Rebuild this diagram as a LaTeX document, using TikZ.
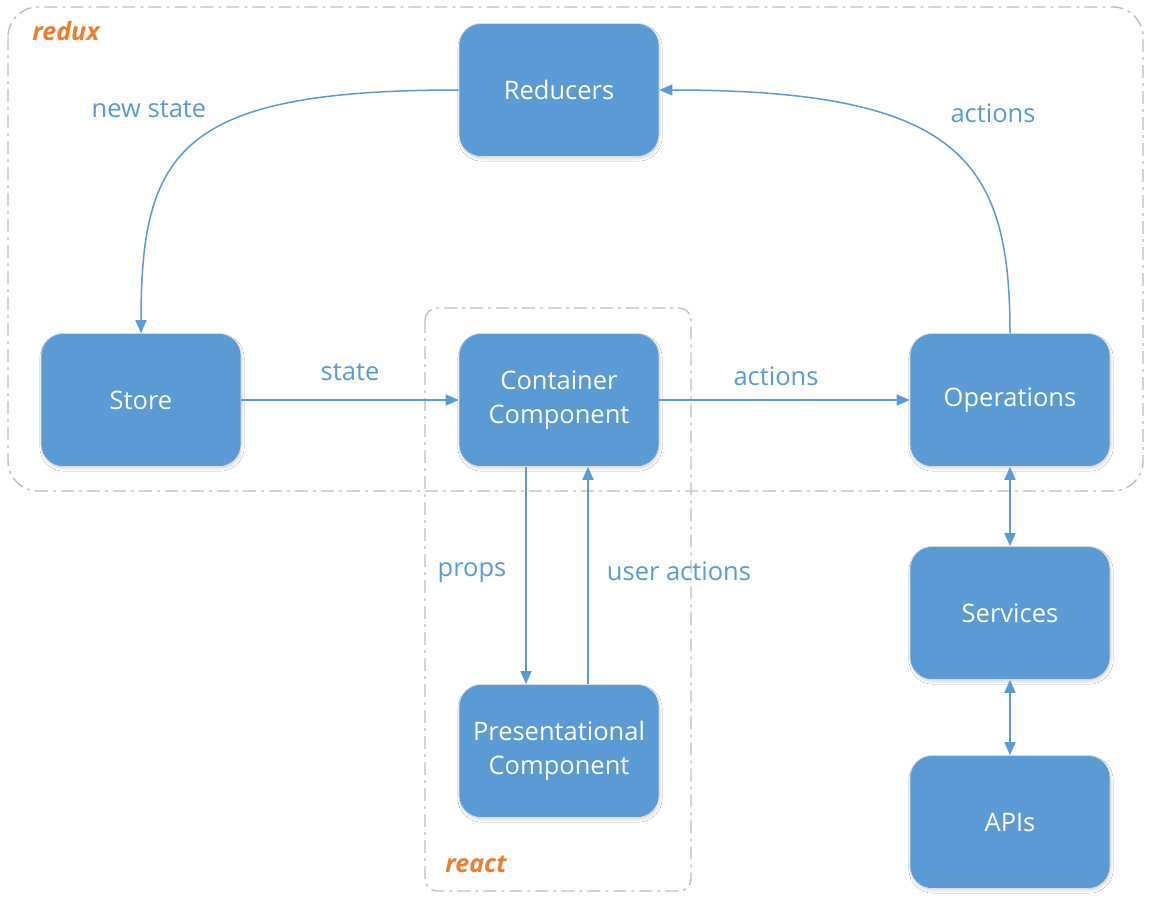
\documentclass[tikz,border=0pt]{standalone}
\usepackage{fontspec}
\setmainfont{Open Sans}
\usetikzlibrary{arrows.meta,shadows.blur}
\definecolor{boxblue}{HTML}{5B9BD5}
\definecolor{tagorange}{HTML}{ED7D31}
\definecolor{framegray}{HTML}{BFBFBF}
\begin{document}
\begin{tikzpicture}[x=1pt,y=-1pt,
  block/.style={rectangle, rounded corners=22pt, fill=boxblue, draw=black!14,
    line width=0.7pt, minimum width=200pt, minimum height=133pt,
    text=white, align=center, font=\fontsize{25.5}{34}\selectfont,
    blur shadow={shadow xshift=1pt, shadow yshift=-2.5pt, shadow opacity=13, shadow blur steps=6}},
  flow/.style={draw=boxblue, line width=1.5pt, -{Triangle[length=13pt,width=11pt]}},
  biflow/.style={draw=boxblue, line width=1.5pt, {Triangle[length=13pt,width=11pt]}-{Triangle[length=13pt,width=11pt]}},
  lbl/.style={text=boxblue, font=\fontsize{25.5}{30}\selectfont},
  tag/.style={text=tagorange, font=\fontsize{25}{30}\selectfont\bfseries\itshape},
  frame/.style={draw=framegray, line width=1.4pt, dash pattern=on 13pt off 5pt on 3pt off 5pt}
]
\useasboundingbox (0,0) rectangle (1151,903);
\fill[white] (0,0) rectangle (1151,903);

% group frames
\draw[frame, rounded corners=30pt] (8,7) rectangle (1143,491);
\draw[frame, rounded corners=12pt] (425,308) rectangle (691,891);

% blocks
\node[block] (reducers) at (559,90) {Reducers};
\node[block] (store) at (141,400) {Store};
\node[block] (container) at (559,400) {Container\\Component};
\node[block] (operations) at (1010,400) {Operations};
\node[block] (services) at (1010,613) {Services};
\node[block] (presentational) at (559,751) {Presentational\\Component};
\node[block] (apis) at (1010,822) {APIs};

% connectors
\draw[flow] (reducers.west) .. controls (180,90) and (141,150) .. (store.north);
\draw[flow] (operations.north) .. controls (1010,160) and (960,90) .. (reducers.east);
\draw[flow] (store.east) -- (container.west);
\draw[flow] (container.east) -- (operations.west);
\coordinate (cdown) at ([xshift=-33pt]container.south);
\coordinate (pdown) at ([xshift=-33pt]presentational.north);
\coordinate (cup) at ([xshift=29pt]container.south);
\coordinate (pup) at ([xshift=29pt]presentational.north);
\draw[flow] (cdown) -- (pdown);
\draw[flow] (pup) -- (cup);
\draw[biflow] (operations.south) -- (services.north);
\draw[biflow] (services.south) -- (apis.north);

% labels
\node[lbl] (lnewstate) at (149,109) {new state};
\node[lbl] (lactionstop) at (993,113) {actions};
\node[lbl] (lstate) at (350,372) {state};
\node[lbl] (lactions) at (776,376) {actions};
\node[lbl] (lprops) at (472,573) {props};
\node[lbl] (luseractions) at (679,571) {user actions};
\node[tag] (tredux) at (66,31) {redux};
\node[tag] (treact) at (476,864) {react};
\end{tikzpicture}
\end{document}
